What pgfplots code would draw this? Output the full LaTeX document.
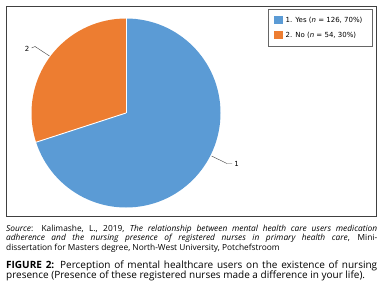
\documentclass[border=0pt]{standalone}
\usepackage{pgfplots}
\pgfplotsset{compat=1.18}
\usepackage{fontspec}
\setmainfont{Open Sans}
\newfontfamily\legfont{DejaVu Sans}
\definecolor{pieblue}{HTML}{5B9BD5}
\definecolor{pieorange}{HTML}{ED7D31}
\begin{document}
\begin{tikzpicture}
\def\valA{126}
\def\valB{54}
\pgfmathsetmacro{\total}{\valA+\valB}
\pgfmathsetmacro{\fracA}{\valA/\total}
\pgfmathsetmacro{\angA}{360*\fracA}
\pgfmathsetmacro{\endA}{90-\angA}
\begin{axis}[width=384bp,height=287bp,scale only axis,hide axis,
  xmin=0,xmax=384,ymin=0,ymax=287,y dir=reverse,clip=false]
% invisible anchor plot so the axis has data
\addplot[draw=none] coordinates {(0,0) (384,287)};
% frame
\draw[black!75, line width=0.7pt] (axis cs:6.5,6) rectangle (axis cs:376.5,216.5);
% pie slices
\fill[pieblue] (axis cs:126,113) -- ++(90:94.5bp) arc[start angle=90,end angle=\endA,radius=94.5bp] -- cycle;
\fill[pieorange] (axis cs:126,113) -- ++(\endA:94.5bp) arc[start angle=\endA,end angle=-270,radius=94.5bp] -- cycle;
\draw[white,line width=0.9pt] (axis cs:126,113) -- ++(90:94.5bp);
\draw[white,line width=0.9pt] (axis cs:126,113) -- ++(\endA:94.5bp);
% leader lines and labels
\draw[black!70,line width=0.45pt] (axis cs:31.5,48) -- (axis cs:35,46.5) -- (axis cs:49.5,56);
\node[font=\legfont\fontsize{7bp}{9bp}\selectfont] at (axis cs:27,49) {2};
\draw[black!70,line width=0.45pt] (axis cs:211.5,156) -- (axis cs:227,163.5) -- (axis cs:232,163.5);
\node[font=\legfont\fontsize{7bp}{9bp}\selectfont] at (axis cs:236.5,164) {1};
% legend
\draw[black!60,line width=0.6pt] (axis cs:268,9.5) rectangle (axis cs:372,46);
\fill[pieblue] (axis cs:273.5,16.5) rectangle (axis cs:283,24.5);
\fill[pieorange] (axis cs:273.5,31.5) rectangle (axis cs:283,39.5);
\node[anchor=west,inner sep=0pt,font=\legfont\fontsize{7bp}{9bp}\selectfont] at (axis cs:285.5,20.5) {1. Yes (\textit{n} = 126, 70\%)};
\node[anchor=west,inner sep=0pt,font=\legfont\fontsize{7bp}{9bp}\selectfont] at (axis cs:285.5,35.5) {2. No (\textit{n} = 54, 30\%)};
% source text
\node[anchor=base west,inner sep=0pt,font=\fontsize{8.35bp}{9bp}\selectfont] at (axis cs:6,231.7) {\makebox[371bp][s]{\textit{Source}: Kalimashe, L., 2019, \textit{The relationship between mental health care users medication}}};
\node[anchor=base west,inner sep=0pt,font=\fontsize{8.35bp}{9bp}\selectfont] at (axis cs:6,240.9) {\makebox[371bp][s]{\textit{adherence and the nursing presence of registered nurses in primary health care}, Mini-}};
\node[anchor=base west,inner sep=0pt,font=\fontsize{8.35bp}{9bp}\selectfont] at (axis cs:6,250.2) {dissertation for Masters degree, North-West University, Potchefstroom};
% caption
\node[anchor=base west,inner sep=0pt,font=\fontsize{10bp}{10bp}\selectfont,text=black] at (axis cs:6,268.3) {\makebox[371bp][s]{\textbf{FIGURE 2:} Perception of mental healthcare users on the existence of nursing}};
\node[anchor=base west,inner sep=0pt,font=\fontsize{10bp}{10bp}\selectfont,text=black] at (axis cs:6,278.8) {presence (Presence of these registered nurses made a difference in your life).};
\end{axis}
\end{tikzpicture}
\end{document}
